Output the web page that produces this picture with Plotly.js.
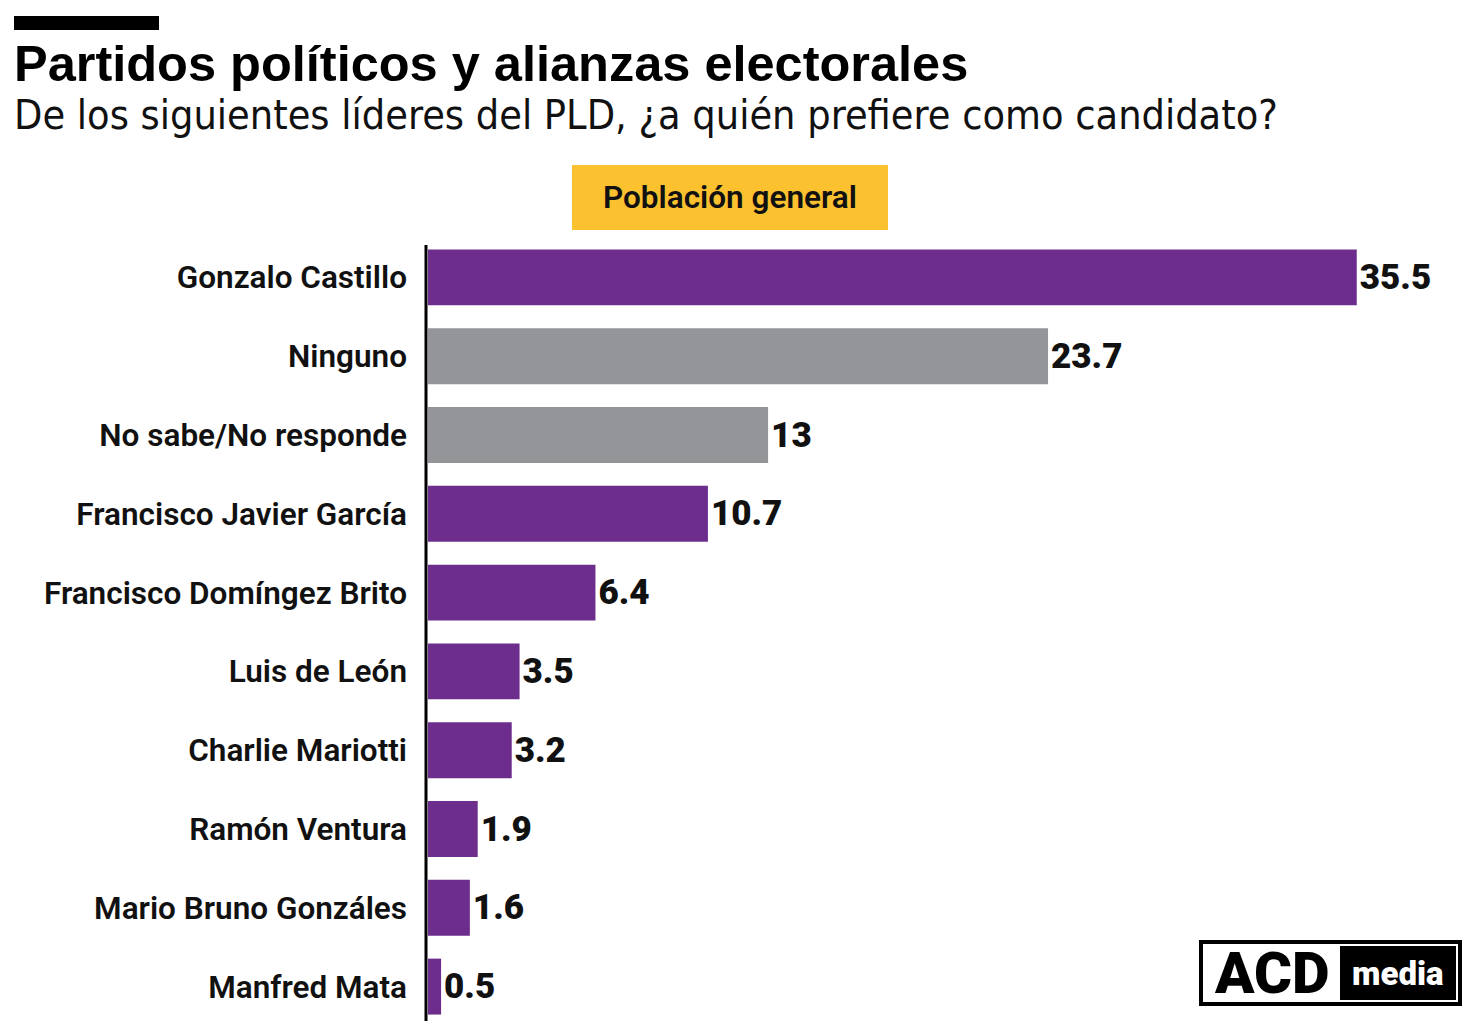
<!DOCTYPE html>
<html>
<head>
<meta charset="utf-8">
<script src="https://cdn.plot.ly/plotly-3.0.1.min.js"></script>
<style>html,body{margin:0;padding:0;background:#fff;}#chart{width:1474px;height:1029px;}</style>
</head>
<body>
<div id="chart"></div>
<script>
const categories = ["Gonzalo Castillo","Ninguno","No sabe/No responde","Francisco Javier García","Francisco Domíngez Brito","Luis de León","Charlie Mariotti","Ramón Ventura","Mario Bruno Gonzáles","Manfred Mata"];
const values = [35.5, 23.7, 13, 10.7, 6.4, 3.5, 3.2, 1.9, 1.6, 0.5];
const grayCategories = ["Ninguno","No sabe/No responde"];
const titleText = "Partidos políticos y alianzas electorales";
const subtitleText = "De los siguientes líderes del PLD, ¿a quién prefiere como candidato?";
const groupLabel = "Población general";

const PURPLE = "#6c2d8c", GRAY = "#939598", YELLOW = "#fbc12f";
const W = 1474, H = 1029, L = 428, R = 44, T = 238, B = 3;
const pw = W - L - R, ph = H - T - B;
const px = x => (x - L) / pw;
const py = y => (H - B - y) / ph;

const colors = categories.map(c => grayCategories.includes(c) ? GRAY : PURPLE);
const LABEL_FONT = "Roboto, 'Open Sans', sans-serif";
const COND_FONT = "'DejaVu Sans Condensed', 'DejaVu Sans', sans-serif";
const TITLE_FONT = "'Liberation Sans', Arial, sans-serif";

const trace = {
  type: "bar", orientation: "h",
  x: values, y: categories,
  marker: {color: colors, line: {width: 0}},
  text: values.map(v => String(v)),
  textposition: "outside",
  constraintext: "none",
  cliponaxis: false,
  textfont: {family: LABEL_FONT, size: 35, color: "#111", weight: 900},
  hoverinfo: "none"
};

const layout = {
  width: W, height: H,
  margin: {l: L, r: R, t: T, b: B, pad: 0},
  paper_bgcolor: "#fff", plot_bgcolor: "#fff",
  bargap: 0.29,
  showlegend: false,
  xaxis: {range: [0, 38.3], visible: false, fixedrange: true},
  yaxis: {
    autorange: "reversed", showgrid: false, zeroline: false,
    showline: false, ticks: "", ticklabelstandoff: 20,
    tickfont: {family: LABEL_FONT, size: 31.5, color: "#111", weight: 600},
    fixedrange: true
  },
  shapes: [
    {type: "line", xref: "paper", yref: "paper", x0: px(426), x1: px(426), y0: py(245), y1: py(1021), line: {color: "#000", width: 3}},
    {type: "rect", xref: "paper", yref: "paper", x0: px(14), x1: px(159), y0: py(30), y1: py(16), fillcolor: "#000", line: {width: 0}},
    {type: "rect", xref: "paper", yref: "paper", x0: px(572), x1: px(888), y0: py(230), y1: py(165), fillcolor: YELLOW, line: {width: 0}},
    {type: "rect", xref: "paper", yref: "paper", x0: px(1201), x1: px(1460), y0: py(1004), y1: py(942), fillcolor: "#fff", line: {color: "#000", width: 4}},
    {type: "rect", xref: "paper", yref: "paper", x0: px(1340), x1: px(1456), y0: py(1000), y1: py(946), fillcolor: "#000", line: {width: 0}}
  ],
  annotations: [
    {xref: "paper", yref: "paper", x: px(12), y: py(33), xanchor: "left", yanchor: "top", showarrow: false,
     text: "<b>" + titleText + "</b>", font: {family: TITLE_FONT, size: 50.5, color: "#000", weight: 900}},
    {xref: "paper", yref: "paper", x: px(12), y: py(89), xanchor: "left", yanchor: "top", showarrow: false,
     text: subtitleText, font: {family: COND_FONT, size: 41, color: "#111", stretch: "condensed"}},
    {xref: "paper", yref: "paper", x: px(730), y: py(197), xanchor: "center", yanchor: "middle", showarrow: false,
     text: groupLabel, font: {family: LABEL_FONT, size: 31.5, color: "#111", weight: 600}},
    {xref: "paper", yref: "paper", x: px(1272), y: py(973), xanchor: "center", yanchor: "middle", showarrow: false,
     text: "ACD", font: {family: LABEL_FONT, size: 58, color: "#000", weight: 900}},
    {xref: "paper", yref: "paper", x: px(1398), y: py(973), xanchor: "center", yanchor: "middle", showarrow: false,
     text: "media", font: {family: LABEL_FONT, size: 33, color: "#fff", weight: 900}}
  ]
};

Plotly.newPlot("chart", [trace], layout, {displayModeBar: false, staticPlot: true});
</script>
</body>
</html>
